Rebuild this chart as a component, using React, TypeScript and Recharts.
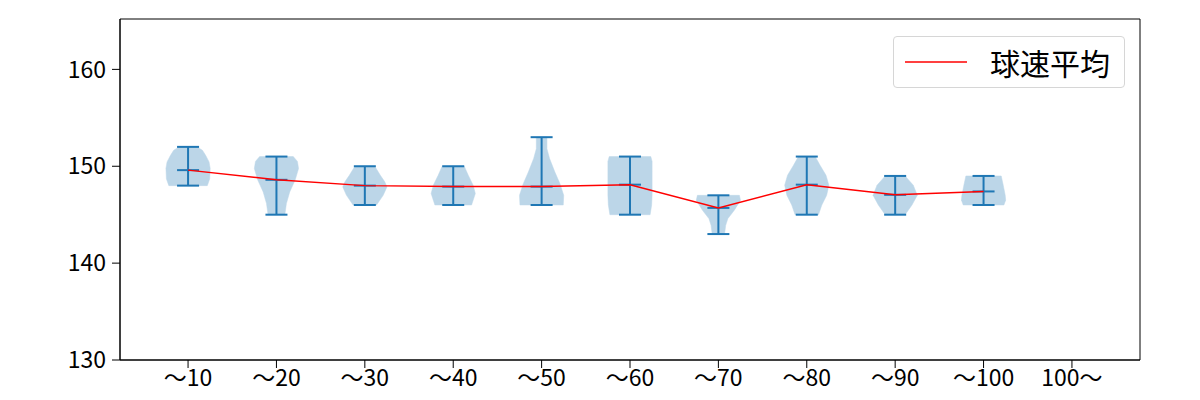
import { ComposedChart, Legend, ReferenceArea, Scatter, XAxis, YAxis } from 'recharts';

const FONT = '"Noto Sans CJK JP", "Noto Sans", sans-serif';
const BLUE = '#1f77b4';
const VIOLIN_FILL = '#bcd6e8';

const CATEGORIES = ['〜10', '〜20', '〜30', '〜40', '〜50', '〜60', '〜70', '〜80', '〜90', '〜100', '100〜'];
const Y_TICKS = [130, 140, 150, 160];

// 球速 (km/h) per category; 100〜 has no pitches
const MINS = [148, 145, 146, 146, 146, 145, 143, 145, 145, 146];
const MAXS = [152, 151, 150, 150, 153, 151, 147, 151, 149, 149];
const MEANS = [149.6, 148.6, 148.0, 147.9, 147.9, 148.1, 145.7, 148.1, 147.05, 147.4];

// violin outline: [speed, relative width]
const PROFILES: [number, number][][] = [
  [[148, 0.87], [148.7, 0.98], [149.8, 1.0], [150.45, 0.95], [151.1, 0.8], [151.65, 0.65], [152, 0.41]],
  [[145, 0.38], [146.15, 0.45], [147.35, 0.6], [148.6, 0.85], [149.76, 1.0], [150.5, 0.95], [151, 0.76]],
  [[146, 0.53], [147, 0.83], [147.87, 1.0], [148.4, 0.9], [149.07, 0.7], [150, 0.45]],
  [[146, 0.83], [147.18, 1.0], [148.04, 0.9], [149.07, 0.68], [150, 0.5]],
  [[146, 0.98], [147, 1.0], [148.2, 0.83], [149.4, 0.6], [150.8, 0.36], [151.8, 0.24], [153, 0.24]],
  [[145, 0.91], [146, 0.98], [147, 1.0], [148, 1.0], [149.5, 1.0], [150.5, 1.0], [151, 0.94]],
  [[143, 0.28], [143.9, 0.33], [144.6, 0.43], [145.46, 0.72], [146.5, 1.0], [147, 0.95]],
  [[145, 0.53], [146, 0.68], [147, 0.9], [148.04, 1.0], [149.07, 0.87], [150.1, 0.6], [151, 0.38]],
  [[145, 0.45], [146, 0.76], [147, 1.0], [148.04, 0.82], [149, 0.45]],
  [[146, 0.92], [146.5, 1.0], [147, 0.98], [148.04, 0.89], [149, 0.8]],
];

const HALF_WIDTH = 0.25;

function outline(profile: [number, number][], pos: number) {
  const right = profile.map(([v, w]) => ({ x: pos + w * HALF_WIDTH, y: v }));
  const left = [...profile].reverse().map(([v, w]) => ({ x: pos - w * HALF_WIDTH, y: v }));
  return [...right, ...left];
}

const violins = PROFILES.map((p, i) => outline(p, i + 1));
const bars = MINS.map((m, i) => [
  { x: i + 1, y: m },
  { x: i + 1, y: MAXS[i] },
]);
const meanData = MEANS.map((m, i) => ({ x: i + 1, y: m }));

const Nothing = () => <g />;

const Cap = (p: any) => (
  <line x1={p.cx - 11} x2={p.cx + 11} y1={p.cy} y2={p.cy} stroke={BLUE} strokeWidth={2} />
);

const violinPath = (p: any) => {
  const pts = p.points || [];
  if (!pts.length) return <g />;
  const d = pts.map((q: any, k: number) => `${k ? 'L' : 'M'}${q.x},${q.y}`).join('') + 'Z';
  return <path d={d} fill={VIOLIN_FILL} stroke={VIOLIN_FILL} strokeWidth={0.5} />;
};

const LegendBox = () => (
  <div
    style={{
      width: 232,
      height: 52,
      boxSizing: 'border-box',
      border: '1px solid #d6d6d6',
      borderRadius: 4,
      background: '#fff',
      display: 'flex',
      alignItems: 'center',
      fontFamily: FONT,
    }}
  >
    <svg width={74} height={10} style={{ marginLeft: 11 }}>
      <line x1={0} x2={62} y1={5} y2={5} stroke="red" strokeWidth={1.5} />
    </svg>
    <span style={{ fontSize: 30, marginLeft: 11, color: '#000', lineHeight: 1 }}>球速平均</span>
  </div>
);

export default function App() {
  const tick = { fontSize: 23, fill: '#000', fontFamily: FONT };
  return (
    <div style={{ position: 'absolute', left: 0, top: 0, width: 1200, height: 400, background: '#fff' }}>
      <ComposedChart width={1200} height={400} margin={{ top: 19, right: 60, bottom: 10, left: 0 }}>
        <XAxis
          dataKey="x"
          type="number"
          domain={[0.23, 11.77]}
          allowDataOverflow
          ticks={CATEGORIES.map((_, i) => i + 1)}
          interval={0}
          tickFormatter={(v) => CATEGORIES[v - 1] ?? ''}
          height={30}
          tick={tick}
          tickSize={8}
          tickMargin={2}
          axisLine={{ stroke: '#000' }}
          tickLine={{ stroke: '#000' }}
        />
        <YAxis
          dataKey="y"
          type="number"
          domain={[130, 165.2]}
          allowDataOverflow
          ticks={Y_TICKS}
          interval={0}
          width={120}
          tick={tick}
          tickSize={8}
          tickMargin={6}
          axisLine={{ stroke: '#000' }}
          tickLine={{ stroke: '#000' }}
        />
        <ReferenceArea x1={0.23} x2={11.77} y1={130} y2={165.2} fill="none" stroke="#000" strokeOpacity={1} />
        {violins.map((v, i) => (
          <Scatter
            key={`v${i}`}
            data={v}
            shape={Nothing}
            line={violinPath}
            legendType="none"
            isAnimationActive={false}
          />
        ))}
        {bars.map((b, i) => (
          <Scatter
            key={`b${i}`}
            data={b}
            shape={Cap}
            line={{ stroke: BLUE, strokeWidth: 2 }}
            legendType="none"
            isAnimationActive={false}
          />
        ))}
        <Scatter data={meanData} shape={Cap} legendType="none" isAnimationActive={false} />
        <Scatter
          data={meanData}
          name="球速平均"
          shape={Nothing}
          line={{ stroke: 'red', strokeWidth: 1.5 }}
          isAnimationActive={false}
        />
        <Legend
          layout="vertical"
          align="center"
          verticalAlign="middle"
          content={LegendBox}
          wrapperStyle={{ position: 'absolute', left: 893, top: 36, width: 232, height: 52 }}
        />
      </ComposedChart>
    </div>
  );
}
